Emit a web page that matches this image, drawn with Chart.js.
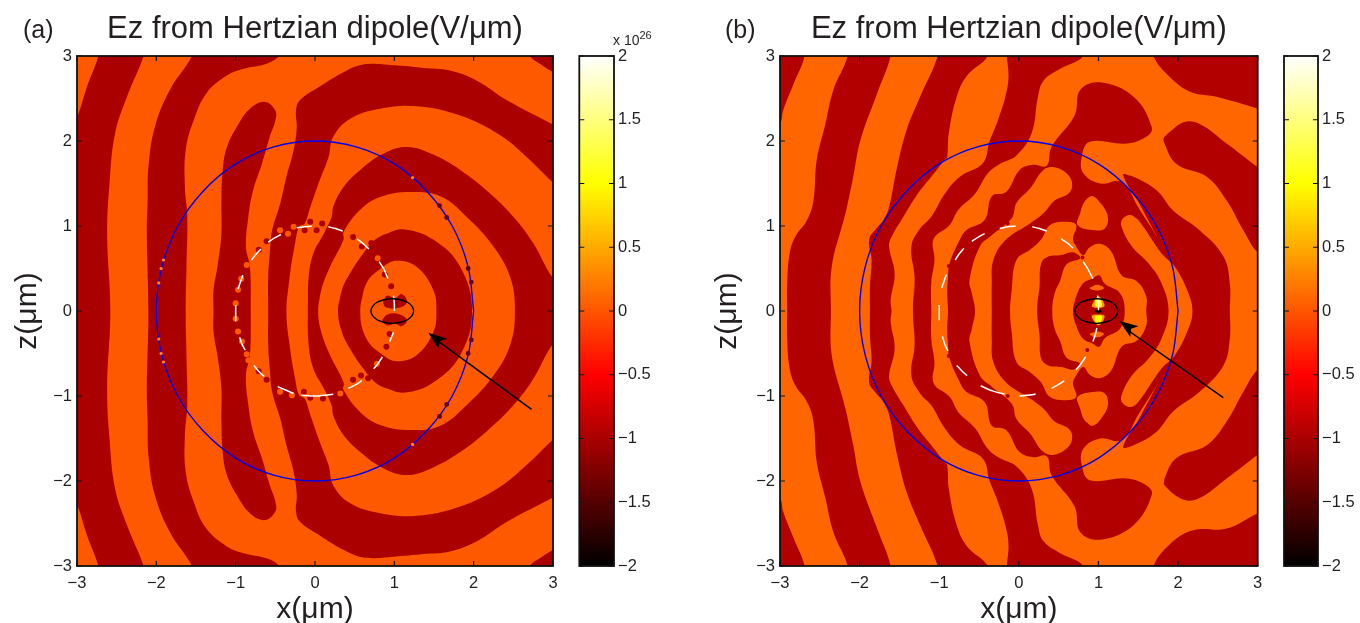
<!DOCTYPE html>
<html>
<head>
<meta charset="utf-8">
<title>Ez from Hertzian dipole</title>
<script src="https://cdn.jsdelivr.net/npm/chart.js@4/dist/chart.umd.js"></script>
<style>
body { margin: 0; background: #fff; width: 1360px; height: 623px; overflow: hidden; position: relative; }
canvas { position: absolute; top: 0; }
.label { position: absolute; font-family: "Liberation Sans"; color: #231f20; white-space: nowrap; }
sup { font-size: 11px; line-height: 0; }
</style>
</head>
<body>
<canvas id="plotA" width="632" height="628" style="left:0"></canvas>
<canvas id="barA" width="90" height="623" style="left:570px"></canvas>
<canvas id="plotB" width="638" height="628" style="left:700px"></canvas>
<canvas id="barB" width="85" height="623" style="left:1275px"></canvas>
<div class="label" style="left:23px;top:15px;font-size:25px">(a)</div>
<div class="label" style="left:725px;top:15px;font-size:25px">(b)</div>
<div class="label" style="left:613px;top:32px;font-size:14px">x 10<sup>26</sup></div>
<script>
var titleText = "Ez from Hertzian dipole(V/μm)"
var axisTicks = [-3, -2, -1, 0, 1, 2, 3]
var barStops = [[-2, "#000000"], [-0.5, "#ff0000"], [1, "#ffff00"], [2, "#ffffff"]]

// circle of radius 2, outline of both panels
var blueRing = [[2,0],[1.93,.52],[1.73,1],[1.41,1.41],[1,1.73],[.52,1.93],[0,2],[-.52,1.93],[-1,1.73],[-1.41,1.41],[-1.73,1],[-1.93,.52],[-2,0],[-1.93,-.52],[-1.73,-1],[-1.41,-1.41],[-1,-1.73],[-.52,-1.93],[0,-2],[.52,-1.93],[1,-1.73],[1.41,-1.41],[1.73,-1],[1.93,-.52],[2,0]]
var blackOval = [[1.245,0],[1.224,.055],[1.167,.103],[1.078,.133],[.975,.145],[.872,.133],[.783,.103],[.726,.055],[.705,0],[.726,-.055],[.783,-.103],[.872,-.133],[.975,-.145],[1.078,-.133],[1.167,-.103],[1.224,-.055],[1.245,0]]

// panel (a), bands
var aBand1 = [[-2.73,3.1],[-2.16,3.1],[-2.16,3],[-2.37,2.52],[-2.52,2.09],[-2.59,1.5],[-2.62,.91],[-2.58,0],[-2.62,-.91],[-2.59,-1.5],[-2.52,-2.09],[-2.37,-2.52],[-2.16,-3],[-2.16,-3.1],[-2.73,-3.1],[-2.73,-3],[-2.87,-2.65],[-3,-2.28],[-3.2,-1.9],[-3.2,1.9],[-3,2.28],[-2.87,2.65],[-2.73,3]]
var aBand2 = [[-1.55,3.1],[-1.55,3],[-1.83,2.6],[-2.02,2.16],[-2.1,1.69],[-2.11,1.3],[-2.12,.91],[-2.1,0],[-2.12,-.91],[-2.11,-1.3],[-2.1,-1.69],[-2.02,-2.16],[-1.83,-2.6],[-1.55,-3],[-1.55,-3.1],[-.4,-3.1],[-.46,-2.99],[-.61,-2.91],[-.9,-2.85],[-1.11,-2.77],[-1.37,-2.56],[-1.53,-2.24],[-1.63,-1.89],[-1.64,-1.46],[-1.61,-1.11],[-1.62,-.52],[-1.63,0],[-1.62,.52],[-1.61,1.11],[-1.64,1.46],[-1.63,1.89],[-1.53,2.24],[-1.37,2.56],[-1.11,2.77],[-.9,2.85],[-.61,2.91],[-.46,2.99],[-.4,3.1]]
var aBand3 = [[-1.28,0],[-1.28,.24],[-1.23,.52],[-1.18,.91],[-1.18,1.3],[-1.16,1.69],[-1.11,1.93],[-.99,2.16],[-.82,2.38],[-.63,2.46],[-.5,2.36],[-.5,2.24],[-.57,2.05],[-.67,1.73],[-.78,1.42],[-.84,1.11],[-.87,.75],[-.82,.52],[-.81,0],[-.82,-.52],[-.87,-.75],[-.84,-1.11],[-.78,-1.42],[-.67,-1.73],[-.57,-2.05],[-.5,-2.24],[-.5,-2.36],[-.63,-2.46],[-.82,-2.38],[-.99,-2.16],[-1.11,-1.93],[-1.16,-1.69],[-1.18,-1.3],[-1.18,-.91],[-1.23,-.52],[-1.28,-.24]]
var aArcOuter = [[-.59,0],[-.59,.4],[-.57,.68],[-.54,.95],[-.44,1.26],[-.36,1.58],[-.27,1.89],[-.23,2.16],[-.24,2.36],[-.19,2.48],[.06,2.64],[.36,2.81],[.61,2.9],[.99,2.89],[1.37,2.86],[1.7,2.83],[2.04,2.71],[2.42,2.48],[2.99,2.2],[3.2,2.1],[3.2,-2.1],[2.99,-2.2],[2.42,-2.48],[2.04,-2.71],[1.7,-2.83],[1.37,-2.86],[.99,-2.89],[.61,-2.9],[.36,-2.81],[.06,-2.64],[-.19,-2.48],[-.24,-2.36],[-.23,-2.16],[-.27,-1.89],[-.36,-1.58],[-.44,-1.26],[-.54,-.95],[-.57,-.68],[-.59,-.4]]
var aStrip = [[-.36,0],[-.32,.4],[-.25,.8],[-.2,.99],[-.13,1.03],[-.06,1.22],[.06,1.54],[.17,1.81],[.23,2.05],[.44,2.26],[.82,2.38],[1.28,2.41],[1.83,2.3],[2.33,2.07],[2.67,1.81],[2.99,1.52],[3.2,1.35],[3.2,-1.35],[2.99,-1.52],[2.67,-1.81],[2.33,-2.07],[1.83,-2.3],[1.28,-2.41],[.82,-2.38],[.44,-2.26],[.23,-2.05],[.17,-1.81],[.06,-1.54],[-.06,-1.22],[-.13,-1.03],[-.2,-.99],[-.25,-.8],[-.32,-.4]]
var aRing2 = [[-.09,0],[-.08,.4],[-.02,.68],[.11,.91],[.21,1.11],[.23,1.23],[.36,1.46],[.57,1.66],[.86,1.85],[1.16,1.93],[1.49,1.84],[1.83,1.66],[2.16,1.42],[2.5,1.11],[2.75,.8],[2.99,.4],[3.2,.2],[3.2,-.2],[2.99,-.4],[2.75,-.8],[2.5,-1.11],[2.16,-1.42],[1.83,-1.66],[1.49,-1.84],[1.16,-1.93],[.86,-1.85],[.57,-1.66],[.36,-1.46],[.23,-1.23],[.21,-1.11],[.11,-.91],[-.02,-.68],[-.08,-.4]]
var aGap2 = [[.04,0],[.08,.25],[.19,.52],[.36,.84],[.36,.93],[.57,1.19],[.82,1.34],[1.2,1.4],[1.58,1.35],[1.91,1.11],[2.25,.76],[2.46,.4],[2.52,0],[2.46,-.4],[2.25,-.76],[1.91,-1.11],[1.58,-1.35],[1.2,-1.4],[.82,-1.34],[.57,-1.19],[.36,-.93],[.36,-.84],[.19,-.52],[.08,-.25]]
var aRing1 = [[.29,0],[.34,.25],[.44,.44],[.61,.68],[.76,.84],[.9,.91],[1.13,.96],[1.49,.84],[1.83,.52],[1.98,0],[1.83,-.52],[1.49,-.84],[1.13,-.96],[.9,-.91],[.76,-.84],[.61,-.68],[.44,-.44],[.34,-.25]]
var aCore = [[.57,0],[.65,.33],[.86,.52],[1.03,.59],[1.28,.52],[1.49,.25],[1.53,0],[1.49,-.25],[1.28,-.52],[1.03,-.59],[.86,-.52],[.65,-.33]]
var aLobeUp = [[.86,.11],[.91,.18],[1.01,.15],[1.09,.2],[1.16,.11],[1.07,.04],[.9,.04]]
var aLobeDown = [[.85,-.11],[.91,-.04],[1.07,-.04],[1.16,-.11],[1.09,-.18],[1.01,-.15],[.91,-.17]]
var aCornerTop = [[2.71,3.1],[3.2,3.1],[3.2,2.7],[3,2.81],[2.85,2.9],[2.71,3]]
var aCornerBottom = [[2.71,-3.1],[2.71,-3],[2.85,-2.9],[3,-2.81],[3.2,-2.7],[3.2,-3.1]]
var aDarkBlobs = [[-.61,.82],[-.71,.72],[-.71,-.71],[-.61,-.81],[-.06,1.05],[.09,1.03],[.02,.95],[-.13,.95],[.32,.97],[.48,.87],[.71,.8],[.59,.76],[.88,.43],[.96,.29],[.9,-.42],[.94,-.27],[.48,-.81],[.67,-.79],[.58,-.76],[.32,-.97],[.1,-1.03],[-.06,-1.02],[-.14,-.95]]
var aOrangeBlobs = [[-.97,.25],[-1,.09],[-1,-.09],[-.97,-.24],[-.93,.38],[-.86,.54],[-.86,-.51],[-.84,-.58],[-.92,-.36],[-.27,.99],[-.44,.95],[-.34,.91],[-.44,-.95],[-.29,-.99],[.32,-.97],[.79,.62],[.78,-.62]]
var aRingDotsDark = [[1.57,1.24],[1.66,1.1],[1.93,.5],[1.97,.34],[1.57,-1.24],[1.66,-1.1],[1.93,-.5],[1.97,-.34]]
var aRingDotsOrange = [[1.23,1.57],[1.23,-1.57],[-1.91,.6],[-1.94,.5],[-1.97,.33],[-1.91,-.6],[-1.94,-.5],[-1.97,-.33]]
var aDashes = [[-1,.07],[-1,-.12],null,[-.97,.26],[-.94,.34],[-.91,.42],null,[-.8,.6],[-.75,.66],[-.68,.73],null,[-.59,.81],[-.51,.86],[-.43,.9],null,[-.23,.98],[-.13,.99],[-.04,1],null,[.17,.99],[.26,.97],[.35,.94],null,[.53,.85],[.61,.79],[.68,.73],null,[.81,.58],[.87,.49],[.92,.38],null,[.99,.18],[1,.09],[1,0],null,[.99,-.25],[.94,-.36],null,[.85,-.54],[.8,-.61],[.74,-.68],null,[.59,-.82],[.51,-.87],[.42,-.91],null,[.23,-.98],[.13,-.99],[.03,-1],null,[-.95,-.31],[-.92,-.39],[-.88,-.46],null,[-.77,-.64],[-.71,-.71],[-.64,-.77],null,[-.47,-.89],[-.37,-.93],[-.27,-.97],null,[-.17,-.99],[-.05,-1],[.06,-1]]
var aArrowLine = [[2.73,-1.157],[1.5,-.32]]
var aArrowHead = [[1.43,-.255],[1.555,-.443],[1.576,-.353],[1.668,-.325]]

// panel (b), bands
var bCornerTL = [[-3.2,3.2],[-2.69,3.2],[-2.69,3],[-2.83,2.67],[-2.96,2.36],[-3,2.2],[-3.2,2]]
var bCornerBL = [[-3.2,-3.2],[-3.2,-2],[-3,-2.2],[-2.96,-2.36],[-2.83,-2.67],[-2.69,-3],[-2.69,-3.2]]
var bCornerTR = [[1.69,3.2],[1.69,3],[1.9,2.75],[2.15,2.58],[2.48,2.52],[3,2.38],[3.2,2.3],[3.2,3.2]]
var bCornerBR = [[1.69,-3.2],[3.2,-3.2],[3.2,-2.3],[3,-2.38],[2.61,-2.56],[2.19,-2.58],[1.9,-2.74],[1.69,-3]]
var bEdgeUp = [[1.83,2.05],[2.07,2.22],[2.27,2.2],[2.61,1.97],[3,1.69],[3.2,1.55],[3.2,.6],[3,.69],[2.82,.95],[2.61,1.3],[2.36,1.58],[1.98,1.73],[1.83,1.97]]
var bEdgeDown = [[1.83,-2.05],[1.83,-1.97],[1.98,-1.73],[2.36,-1.58],[2.61,-1.3],[2.82,-.95],[3,-.69],[3.2,-.6],[3.2,-1.55],[3,-1.69],[2.61,-1.97],[2.27,-2.2],[2.07,-2.22]]
var bArc = [[1.31,1.6],[1.44,1.58],[1.73,1.42],[1.94,1.18],[2.27,.95],[2.57,.64],[2.65,.32],[2.65,0],[2.65,-.32],[2.57,-.64],[2.27,-.95],[1.94,-1.18],[1.73,-1.42],[1.44,-1.58],[1.31,-1.6],[1.52,-1.25],[1.88,-.6],[2.17,0],[1.88,.6],[1.52,1.25]]
var bStripe1 = [[-2.15,3.2],[-2.15,3],[-2.33,2.6],[-2.43,2.2],[-2.54,1.77],[-2.58,1.3],[-2.66,1.07],[-2.81,.87],[-2.88,.67],[-2.91,.32],[-2.91,0],[-2.91,-.32],[-2.88,-.67],[-2.81,-.87],[-2.66,-1.07],[-2.58,-1.3],[-2.54,-1.77],[-2.43,-2.2],[-2.33,-2.6],[-2.15,-3],[-2.15,-3.2],[-1.61,-3.2],[-1.61,-3],[-1.78,-2.56],[-1.99,-2.01],[-2.08,-1.58],[-2.16,-1.22],[-2.2,-1.07],[-2.35,-.52],[-2.36,0],[-2.35,.52],[-2.2,1.07],[-2.16,1.22],[-2.08,1.58],[-1.99,2.01],[-1.78,2.56],[-1.61,3],[-1.61,3.2]]
var bStripe2 = [[-1.02,3.2],[-1.02,3],[-1.24,2.52],[-1.41,2.13],[-1.53,1.69],[-1.63,1.22],[-1.7,1.07],[-1.79,.97],[-1.88,.84],[-1.85,.6],[-1.87,.29],[-1.87,0],[-1.87,-.29],[-1.85,-.6],[-1.88,-.84],[-1.79,-.97],[-1.7,-1.07],[-1.63,-1.22],[-1.53,-1.69],[-1.41,-2.13],[-1.24,-2.52],[-1.02,-3],[-1.02,-3.2],[-.39,-3.2],[-.39,-3],[-.65,-2.77],[-.78,-2.52],[-.88,-2.09],[-.9,-1.81],[-.93,-1.78],[-1.1,-1.58],[-1.27,-1.38],[-1.45,-1.11],[-1.6,-.87],[-1.63,-.76],[-1.56,-.44],[-1.61,-.13],[-1.6,0],[-1.61,.13],[-1.56,.44],[-1.63,.76],[-1.6,.87],[-1.45,1.11],[-1.27,1.38],[-1.1,1.58],[-.93,1.78],[-.9,1.81],[-.88,2.09],[-.78,2.52],[-.65,2.77],[-.39,3],[-.39,3.2]]
var bStripe3 = [[-1.33,0],[-1.31,.4],[-1.35,.76],[-1.24,.97],[-1.1,1.11],[-.93,1.38],[-.74,1.58],[-.45,1.74],[-.37,1.99],[-.28,2.2],[-.17,2.52],[-.13,2.75],[-.15,3],[-.15,3.2],[.81,3.2],[.81,3],[.52,2.85],[.31,2.71],[.24,2.52],[.16,2.09],[-.03,1.83],[-.24,1.73],[-.39,1.62],[-.55,1.38],[-.76,1.19],[-.87,1.01],[-1.07,.85],[-1.06,.6],[-1.1,.33],[-1.1,0],[-1.1,-.33],[-1.06,-.6],[-1.07,-.85],[-.87,-1.01],[-.76,-1.19],[-.55,-1.38],[-.39,-1.62],[-.24,-1.73],[-.03,-1.83],[.16,-2.09],[.24,-2.52],[.31,-2.71],[.52,-2.85],[.81,-3],[.81,-3.2],[-.15,-3.2],[-.15,-3],[-.13,-2.75],[-.17,-2.52],[-.28,-2.2],[-.37,-1.99],[-.45,-1.74],[-.74,-1.58],[-.93,-1.38],[-1.1,-1.11],[-1.24,-.97],[-1.35,-.76],[-1.31,-.4]]
var bMass = [[-.89,0],[-.9,.21],[-.89,.4],[-.87,.56],[-.74,.84],[-.66,.95],[-.43,1.07],[-.34,1.35],[-.16,1.4],[.01,1.66],[.18,1.72],[.35,1.71],[.41,1.93],[.7,2.3],[.77,2.6],[1.02,2.69],[1.44,2.52],[1.67,2.16],[1.6,2.05],[1.35,1.97],[.89,1.99],[.79,1.81],[.81,1.62],[1.02,1.5],[1.29,1.52],[1.5,1.22],[1.9,.6],[2.18,0],[1.9,-.6],[1.5,-1.22],[1.29,-1.52],[1.02,-1.5],[.81,-1.62],[.79,-1.81],[.89,-1.99],[1.35,-1.97],[1.6,-2.05],[1.67,-2.16],[1.44,-2.52],[1.02,-2.69],[.77,-2.6],[.7,-2.3],[.41,-1.93],[.35,-1.71],[.18,-1.72],[.01,-1.66],[-.16,-1.4],[-.34,-1.35],[-.43,-1.07],[-.66,-.95],[-.74,-.84],[-.87,-.56],[-.89,-.4],[-.9,-.21]]
var bGap1 = [[-.55,0],[-.59,.21],[-.62,.36],[-.49,.76],[-.34,.89],[-.09,1.09],[-.03,1.27],[.14,1.44],[.31,1.66],[.45,1.69],[.62,1.6],[.67,1.48],[.62,1.38],[.45,1.3],[.31,1.15],[.14,1.03],[-.16,.84],[-.32,.6],[-.34,.33],[-.34,0],[-.34,-.33],[-.32,-.6],[-.16,-.84],[.14,-1.03],[.31,-1.15],[.45,-1.3],[.62,-1.38],[.67,-1.48],[.62,-1.6],[.45,-1.69],[.31,-1.66],[.14,-1.44],[-.03,-1.27],[-.09,-1.09],[-.34,-.89],[-.49,-.76],[-.62,-.36],[-.59,-.21]]
var bFinger = [[1.4,1.13],[1.5,1.07],[1.79,.68],[1.96,.52],[2.13,.21],[2.18,0],[2.13,-.21],[1.96,-.52],[1.79,-.68],[1.5,-1.07],[1.4,-1.13],[1.3,-1.08],[1.29,-.99],[1.42,-.76],[1.63,-.56],[1.79,-.33],[1.88,0],[1.79,.33],[1.63,.56],[1.42,.76],[1.29,.99],[1.3,1.08]]
var bIslandUp = [[.93,1.35],[1.06,1.23],[1.12,1.09],[1.08,.97],[.96,.95],[.74,1.01],[.77,1.15],[.83,1.29]]
var bIslandDown = [[.93,-1.35],[.83,-1.29],[.77,-1.15],[.74,-1.01],[.96,-.95],[1.08,-.97],[1.12,-1.09],[1.06,-1.23]]
var bGap2 = [[-.11,0],[-.09,.25],[-.03,.6],[.14,.72],[.28,.84],[.39,1.01],[.6,1.05],[.72,1.01],[.68,.85],[.72,.76],[.81,.66],[.89,.75],[1.02,.79],[1.16,.7],[1.29,.42],[1.48,.35],[1.6,.17],[1.6,0],[1.6,-.17],[1.48,-.35],[1.29,-.42],[1.16,-.7],[1.02,-.79],[.89,-.75],[.81,-.66],[.72,-.76],[.68,-.85],[.72,-1.01],[.6,-1.05],[.39,-1.01],[.28,-.84],[.14,-.72],[-.03,-.6],[-.09,-.25]]
var bRing = [[.23,0],[.26,.29],[.28,.56],[.37,.64],[.54,.66],[.68,.69],[.77,.62],[.6,.55],[.52,.36],[.45,.21],[.42,0],[.45,-.21],[.52,-.36],[.6,-.55],[.77,-.62],[.68,-.69],[.54,-.66],[.37,-.64],[.28,-.56],[.26,-.29]]
var bCore = [[.68,0],[.72,.17],[.81,.33],[.92,.38],[1.01,.42],[1.08,.32],[1.27,.21],[1.33,0],[1.27,-.21],[1.08,-.32],[1.01,-.42],[.92,-.38],[.81,-.33],[.72,-.17]]
var bLensUp = [[.89,.27],[.98,.31],[1.07,.27],[.98,.24]]
var bLensDown = [[.89,-.27],[.98,-.24],[1.07,-.27],[.98,-.31]]
var bHotUp = [[.92,.05],[.95,.13],[1,.17],[1.05,.13],[1.07,.05]]
var bHotDown = [[.92,-.05],[1.07,-.05],[1.05,-.13],[1,-.17],[.95,-.13]]
var bYellowUp = [[.96,.06],[.96,.13],[1,.15],[1.03,.13],[1.04,.06]]
var bYellowDown = [[.96,-.06],[1.04,-.06],[1.03,-.13],[1,-.15],[.96,-.13]]
var bDiamond = [[.95,0],[1,.03],[1.05,0],[1,-.03]]
var bDarkBlobs = [[-.14,1.03],[-.14,-1],[-.88,.53],[-.88,-.53],[.86,-.46],[.8,.63]]
var bDashes = [[-1,.07],[-1,-.11],null,[-.97,.27],[-.94,.35],[-.91,.43],null,[-.8,.6],[-.75,.67],[-.69,.74],null,[-.59,.82],[-.51,.87],[-.43,.91],null,[-.24,.97],[-.14,.99],[-.04,1],null,[.17,.99],[.26,.97],[.35,.94],null,[.53,.85],[.61,.8],[.68,.74],null,[.81,.58],[.87,.49],[.93,.38],null,[.99,.18],[1,.1],[1,.01],null,[.98,-.2],[.96,-.28],[.93,-.36],null,[.84,-.54],[.78,-.62],[.72,-.69],null,[.57,-.82],[.49,-.87],[.41,-.91],null,[.21,-.98],[.12,-.99],[.02,-1],null,[-.96,-.3],[-.93,-.39],[-.89,-.47],null,[-.78,-.64],[-.72,-.7],[-.65,-.76],null,[-.48,-.88],[-.33,-.94],[-.18,-.98],null,[.01,-1],[.11,-.99],[.21,-.98]]
var bArrowLine = [[2.567,-1.02],[1.33,-.2]]
var bArrowHead = [[1.265,-.118],[1.4,-.306],[1.41,-.208],[1.504,-.18]]

var ink = "#231f20"
var fontName = "Liberation Sans"
var tickFont = { family: fontName, size: 16.5 }
var axisFont = { family: fontName, size: 30 }

function toXY(list) {
	return list.map(function (p) {
		return p ? { x: p[0], y: p[1] } : { x: null, y: null }
	})
}

function shape(list, color, tension) {
	var t = tension === undefined ? 0.4 : tension
	// walk over the first two points again so the curve closes without a kink
	var path = t ? list.concat(list.slice(0, 2)) : list
	return {
		data: toXY(path), showLine: true, fill: "shape", backgroundColor: color, borderColor: color,
		borderWidth: 0, pointRadius: 0, tension: t
	}
}

function stroke(list, color, width, tension) {
	return {
		data: toXY(list), showLine: true, fill: false, borderColor: color, borderWidth: width,
		pointRadius: 0, tension: tension || 0, spanGaps: false
	}
}

function dots(list, color, radius) {
	return { data: toXY(list), showLine: false, pointRadius: radius, pointBackgroundColor: color, pointBorderWidth: 0 }
}

function minusSign(v) {
	return String(v).replace("-", "\u2212")
}

// matlab style box with ticks pointing inward
var boxPlugin = {
	id: "box",
	afterDatasetsDraw: function (chart) {
		var a = chart.chartArea, c = chart.ctx, sx = chart.scales.x, sy = chart.scales.y
		c.save()
		c.strokeStyle = "#111"
		c.lineWidth = 1.2
		c.beginPath()
		if (sx.options.type === "linear") {
			sx.ticks.forEach(function (t) {
				var px = sx.getPixelForValue(t.value)
				c.moveTo(px, a.bottom); c.lineTo(px, a.bottom - 5)
				c.moveTo(px, a.top); c.lineTo(px, a.top + 5)
			})
		}
		sy.ticks.forEach(function (t) {
			var py = sy.getPixelForValue(t.value)
			c.moveTo(a.left, py); c.lineTo(a.left + 5, py)
			c.moveTo(a.right, py); c.lineTo(a.right - 5, py)
		})
		c.stroke()
		c.lineWidth = 1.8
		c.strokeRect(a.left, a.top, a.right - a.left, a.bottom - a.top)
		c.restore()
	}
}

function plot(id, layers, left, right) {
	new Chart(document.getElementById(id), {
		type: "scatter",
		data: { datasets: layers.slice().reverse() },
		plugins: [boxPlugin],
		options: {
			responsive: false,
			animation: false,
			events: [],
			layout: { padding: { right: right } },
			plugins: {
				legend: { display: false },
				tooltip: { enabled: false },
				title: {
					display: true, text: titleText, color: ink, fullSize: false,
					font: { family: fontName, size: 31, weight: "normal", lineHeight: 1.2 },
					padding: { top: 11, bottom: 7.8 }
				}
			},
			scales: {
				x: {
					type: "linear", min: -3, max: 3,
					afterFit: function (s) { s.height = 62 },
					afterBuildTicks: function (s) { s.ticks = axisTicks.map(function (v) { return { value: v } }) },
					grid: { display: false, drawTicks: false },
					border: { display: false },
					title: { display: true, text: "x(μm)", color: ink, font: axisFont, padding: 0 },
					ticks: { color: ink, font: tickFont, padding: 8, maxRotation: 0, autoSkip: false, callback: minusSign }
				},
				y: {
					type: "linear", min: -3, max: 3,
					afterFit: function (s) { s.width = left },
					afterBuildTicks: function (s) { s.ticks = axisTicks.map(function (v) { return { value: v } }) },
					grid: { display: false, drawTicks: false },
					border: { display: false },
					title: { display: true, text: "z(μm)", color: ink, font: axisFont, padding: { top: 10, bottom: 0 } },
					ticks: { color: ink, font: tickFont, padding: 5, autoSkip: false, callback: minusSign }
				}
			}
		}
	})
}

function colorbar(id, left, axisWidth) {
	new Chart(document.getElementById(id), {
		type: "bar",
		data: {
			labels: [""],
			datasets: [{
				data: [[-2, 2]], barPercentage: 1, categoryPercentage: 1, borderWidth: 0,
				backgroundColor: function (ctx) {
					var a = ctx.chart.chartArea
					if (!a) return "#000"
					var g = ctx.chart.ctx.createLinearGradient(0, a.bottom, 0, a.top)
					barStops.forEach(function (s) { g.addColorStop((s[0] + 2) / 4, s[1]) })
					return g
				}
			}]
		},
		plugins: [boxPlugin],
		options: {
			responsive: false,
			animation: false,
			events: [],
			layout: { padding: { left: left, top: 56, bottom: 57 } },
			plugins: { legend: { display: false }, tooltip: { enabled: false } },
			scales: {
				x: { display: false },
				y: {
					position: "right", min: -2, max: 2,
					afterFit: function (s) { s.width = axisWidth },
					grid: { display: false, drawTicks: false },
					border: { display: false },
					ticks: { stepSize: 0.5, color: ink, font: tickFont, padding: 4, autoSkip: false, callback: minusSign }
				}
			}
		}
	})
}

var aO = "#ff5900", aD = "#aa0000"
plot("plotA", [
	shape([[-3.5,3.5],[3.5,3.5],[3.5,-3.5],[-3.5,-3.5]], aO, 0),
	shape(aBand1, aD), shape(aBand2, aD), shape(aBand3, aD),
	shape(aCornerTop, aD), shape(aCornerBottom, aD),
	shape(aArcOuter, aD), shape(aStrip, aO), shape(aRing2, aD), shape(aGap2, aO),
	shape(aRing1, aD), shape(aCore, aO),
	shape(aLobeUp, aD), shape(aLobeDown, aD),
	dots(aDarkBlobs, aD, 3), dots(aOrangeBlobs, aO, 3),
	stroke(aDashes, "#ffffff", 1.5, 0.3),
	stroke(blueRing, "#0000f0", 1.4, 0.33),
	dots(aRingDotsDark, "#5a0030", 2.4), dots(aRingDotsOrange, "#ff8a3c", 1.6),
	stroke(blackOval, "#000000", 1.4, 0.33),
	stroke(aArrowLine, "#000000", 1.5),
	shape(aArrowHead, "#000000", 0)
], 77, 79)
colorbar("barA", 9.3, 46)

var bO = "#ff6600", bD = "#b20000"
plot("plotB", [
	shape([[-3.5,3.5],[3.5,3.5],[3.5,-3.5],[-3.5,-3.5]], bO, 0),
	shape(bCornerTL, bD), shape(bCornerBL, bD), shape(bCornerTR, bD), shape(bCornerBR, bD),
	shape(bEdgeUp, bD), shape(bEdgeDown, bD), shape(bArc, bD),
	shape(bStripe1, bD), shape(bStripe2, bD), shape(bStripe3, bD),
	shape(bMass, bD), shape(bGap1, bO), shape(bFinger, bO),
	shape(bIslandUp, bO), shape(bIslandDown, bO),
	shape(bGap2, bO), shape(bRing, bD), shape(bCore, bD),
	shape(bLensUp, bO), shape(bLensDown, bO),
	shape(bHotUp, "#ff9a00"), shape(bHotDown, "#ff9a00"),
	shape(bYellowUp, "#ffff00"), shape(bYellowDown, "#ffff00"),
	shape(bDiamond, "#000000", 0),
	dots(bDarkBlobs, bD, 2),
	stroke(bDashes, "#ffffff", 1.5, 0.3),
	stroke(blueRing, "#0000f0", 1.4, 0.33),
	stroke(blackOval, "#000000", 1.4, 0.33),
	stroke(bArrowLine, "#000000", 1.5),
	shape(bArrowHead, "#000000", 0)
], 80, 80.3)
colorbar("barB", 9, 42)
</script>
</body>
</html>
